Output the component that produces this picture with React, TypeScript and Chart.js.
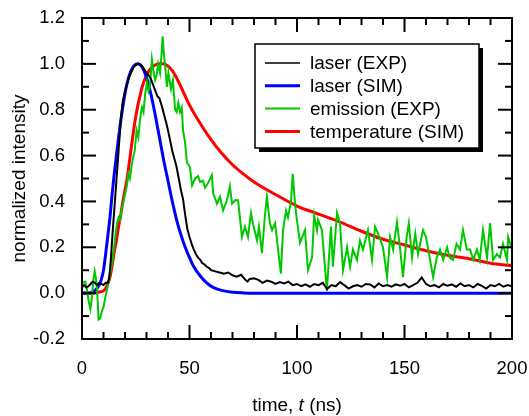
import React, { useEffect, useRef } from 'react';
import { Chart, registerables } from 'chart.js';

Chart.register(...registerables);

const FONT = '"Liberation Sans", Arial, Helvetica, sans-serif';

// ---- data ----
const laserExpT = [0, 1, 2, 3, 4, 5, 6, 7, 8, 9, 10, 11, 12, 12.5, 13, 13.5, 14, 14.5, 15, 16, 17, 18, 19, 20, 21, 22, 23, 24, 25, 26, 27, 28, 29, 30, 31, 32, 33, 34, 35, 36, 37, 38, 39, 40, 41, 42, 43, 44, 45, 46, 47, 48, 49, 50, 51, 52, 53, 54, 55, 56, 57, 58, 59, 60, 62, 64, 66, 68, 70, 72, 74, 76, 77, 78, 80, 82, 84, 86, 88, 90, 92, 94, 96, 98, 100, 102, 104, 106, 108, 110, 112, 114, 116, 118, 120, 122, 124, 126, 128, 130, 132, 134, 136, 138, 140, 142, 144, 146, 148, 150, 152, 154, 156, 158, 160, 162, 164, 166, 168, 170, 172, 174, 176, 178, 180, 182, 184, 186, 188, 190, 192, 194, 196, 198, 200];
const laserExpV = [0.025, 0.035, 0.025, 0.03, 0.04, 0.05, 0.045, 0.035, 0.045, 0.04, 0.035, 0.045, 0.045, 0.06, 0.1, 0.16, 0.23, 0.3, 0.36, 0.49, 0.62, 0.75, 0.84, 0.88, 0.915, 0.945, 0.965, 0.985, 0.995, 1.0, 0.998, 0.99, 0.975, 0.96, 0.95, 0.935, 0.91, 0.885, 0.86, 0.85, 0.82, 0.785, 0.75, 0.71, 0.665, 0.62, 0.585, 0.55, 0.5, 0.45, 0.41, 0.34, 0.28, 0.245, 0.215, 0.19, 0.17, 0.155, 0.145, 0.13, 0.125, 0.115, 0.11, 0.1, 0.095, 0.09, 0.085, 0.09, 0.078, 0.072, 0.08, 0.058, 0.05, 0.062, 0.065, 0.058, 0.045, 0.055, 0.05, 0.04, 0.048, 0.042, 0.05, 0.035, 0.04, 0.03, 0.038, 0.028, 0.04, 0.035, 0.045, 0.018, 0.035, 0.03, 0.048, 0.035, 0.02, 0.03, 0.035, 0.028, 0.04, 0.038, 0.025, 0.042, 0.03, 0.035, 0.028, 0.038, 0.032, 0.04, 0.025, 0.035, 0.045, 0.068, 0.04, 0.03, 0.035, 0.025, 0.04, 0.032, 0.038, 0.028, 0.042, 0.03, 0.035, 0.025, 0.04, 0.032, 0.02, 0.035, 0.03, 0.04, 0.028, 0.035, 0.03];

const laserSimT = [0, 4, 6, 8, 9, 10, 11, 12, 13, 14, 15, 16, 18, 20, 22, 24, 26, 28, 30, 32, 34, 36, 38, 40, 42, 44, 46, 48, 50, 52, 55, 58, 61, 65, 70, 75, 80, 100, 150, 200];
const laserSimV = [0, 0.002, 0.012, 0.035, 0.06, 0.1, 0.17, 0.25, 0.33, 0.43, 0.52, 0.6, 0.75, 0.87, 0.95, 0.99, 1.0, 0.985, 0.94, 0.87, 0.78, 0.68, 0.58, 0.49, 0.4, 0.32, 0.255, 0.2, 0.155, 0.115, 0.075, 0.045, 0.025, 0.012, 0.004, 0.001, 0, 0, 0, 0];

const emissionT = [0, 1, 1.6, 2.3, 3.2, 3.9, 4.6, 5.3, 5.9, 6.5, 7, 7.7, 8.4, 9.2, 10.1, 10.8, 11.6, 12.4, 13.2, 14, 14.7, 15.4, 16.2, 17, 17.7, 18.5, 19.1, 20, 20.9, 21.6, 22.3, 23, 23.7, 24.5, 25.4, 26.2, 27, 27.9, 28.6, 29.4, 30.2, 30.9, 31.6, 32.5, 33.2, 34, 34.7, 35.4, 36.3, 37, 37.5, 38.1, 38.6, 39.5, 40.2, 41.4, 42.3, 43.3, 44, 44.8, 45.6, 46.4, 47, 47.9, 48.8, 50.2, 51.2, 52.6, 54, 54.9, 56.3, 57.2, 58.6, 60.4, 61, 62.8, 64.2, 65.6, 67.4, 68.8, 69.8, 71.2, 72.6, 74.4, 75.8, 77.2, 78.6, 79.5, 81.4, 82.3, 83.7, 85, 86, 87.4, 88.4, 89.8, 91.2, 92.5, 93.5, 94.9, 95.8, 97.2, 98, 99, 99.8, 101.4, 103.7, 105.1, 107, 108, 109.3, 109.8, 111.6, 113.9, 115.8, 116.7, 118.6, 120, 121.4, 123.3, 124.7, 126, 127.9, 129.3, 130.7, 133, 134.9, 136.3, 137.7, 140, 141.9, 143.3, 144.7, 146.5, 148, 149.3, 151, 152, 153.5, 155, 156.3, 158.6, 160, 161.9, 163.3, 165, 166.5, 168, 169.8, 171, 172.6, 174.2, 175.8, 177.2, 179, 180.5, 182, 183.7, 185, 186.5, 188.4, 189.8, 191.2, 193, 194.4, 195.8, 197.7, 198.2, 200];
const emissionV = [0.04, 0.05, 0.05, 0.015, -0.04, -0.07, -0.02, 0.06, 0.095, 0.06, 0.02, -0.115, -0.11, -0.08, -0.057, -0.02, 0.015, 0.05, 0.09, 0.13, 0.18, 0.24, 0.3, 0.33, 0.32, 0.37, 0.39, 0.43, 0.47, 0.52, 0.5, 0.55, 0.59, 0.62, 0.71, 0.68, 0.76, 0.81, 0.79, 0.87, 0.92, 0.88, 0.9, 1.02, 0.97, 0.93, 0.95, 1.0, 0.96, 1.04, 1.12, 1.04, 1.0, 0.9, 0.96, 0.89, 0.93, 0.8, 0.79, 0.83, 0.79, 0.81, 0.71, 0.66, 0.57, 0.55, 0.47, 0.5, 0.51, 0.485, 0.49, 0.46, 0.48, 0.515, 0.435, 0.39, 0.42, 0.36, 0.405, 0.465, 0.39, 0.405, 0.405, 0.245, 0.29, 0.245, 0.35, 0.305, 0.23, 0.29, 0.175, 0.33, 0.42, 0.305, 0.275, 0.305, 0.19, 0.085, 0.275, 0.36, 0.33, 0.4, 0.52, 0.4, 0.33, 0.22, 0.275, 0.1, 0.155, 0.34, 0.275, 0.32, 0.275, 0.01, 0.29, 0.115, 0.35, 0.305, 0.1, 0.2, 0.115, 0.19, 0.145, 0.23, 0.19, 0.275, 0.145, 0.29, 0.26, 0.2, 0.07, 0.245, 0.19, 0.31, 0.19, 0.07, 0.245, 0.305, 0.155, 0.26, 0.17, 0.275, 0.245, 0.145, 0.07, 0.155, 0.19, 0.145, 0.2, 0.155, 0.145, 0.215, 0.19, 0.275, 0.19, 0.19, 0.145, 0.19, 0.145, 0.275, 0.155, 0.305, 0.145, 0.17, 0.155, 0.215, 0.145, 0.245, 0.19];

const tempSimT = [0, 5, 8, 10, 12, 13, 14, 15, 16, 17, 18, 19, 20, 21, 22, 23, 24, 25, 26, 27, 28, 30, 32, 34, 36, 38, 40, 42, 45, 50, 55, 60, 65, 70, 75, 80, 90, 100, 110, 120, 130, 140, 150, 160, 170, 180, 190, 200];
const tempSimV = [0, 0, 0.005, 0.01, 0.04, 0.07, 0.12, 0.18, 0.23, 0.29, 0.34, 0.4, 0.45, 0.5, 0.57, 0.64, 0.71, 0.77, 0.82, 0.86, 0.9, 0.95, 0.98, 0.995, 1.0, 1.0, 0.99, 0.97, 0.92, 0.82, 0.74, 0.67, 0.61, 0.56, 0.52, 0.485, 0.43, 0.38, 0.345, 0.31, 0.27, 0.235, 0.21, 0.185, 0.165, 0.15, 0.13, 0.12];

const seriesLabels = ['laser (EXP)', 'laser (SIM)', 'emission (EXP)', 'temperature (SIM)'];
const seriesColors = ['#000000', '#0000ff', '#00c800', '#ff0000'];
const seriesWidths = [2, 3, 2, 3];

const xTitleParts = [
  { text: 'time, ', italic: false },
  { text: 't', italic: true },
  { text: ' (ns)', italic: false },
];
const yTitle = 'normalized intensity';

const toPts = (t: number[], v: number[]) => t.map((x, i) => ({ x, y: v[i] }));

const framePlugin = {
  id: 'frameTicksLegend',
  afterDatasetsDraw(chart: any) {
    const { ctx, chartArea: a, scales } = chart;
    const xs = scales.x;
    const ys = scales.y;
    ctx.save();
    ctx.strokeStyle = '#000';
    ctx.lineWidth = 2;
    ctx.lineCap = 'butt';
    const seg = (x1: number, y1: number, x2: number, y2: number) => {
      ctx.beginPath();
      ctx.moveTo(x1, y1);
      ctx.lineTo(x2, y2);
      ctx.stroke();
    };
    const xv = xs.ticks.map((t: any) => t.value);
    const drawX = (v: number, len: number) => {
      const p = xs.getPixelForValue(v);
      seg(p, a.bottom, p, a.bottom - len);
      seg(p, a.top, p, a.top + len);
    };
    xv.forEach((v: number, i: number) => {
      drawX(v, 14);
      if (i < xv.length - 1) {
        for (let k = 1; k < 5; k++) drawX(v + ((xv[i + 1] - v) * k) / 5, 7);
      }
    });
    const yv = ys.ticks.map((t: any) => t.value);
    const drawY = (v: number, len: number) => {
      const p = ys.getPixelForValue(v);
      seg(a.left, p, a.left + len, p);
      seg(a.right, p, a.right - len, p);
    };
    yv.forEach((v: number, i: number) => {
      drawY(v, 14);
      if (i < yv.length - 1) drawY((v + yv[i + 1]) / 2, 7);
    });
    ctx.strokeRect(a.left, a.top, a.right - a.left, a.bottom - a.top);

    // legend
    const lx = 255, ly = 44, lw = 224, lh = 104;
    ctx.fillStyle = '#000';
    ctx.fillRect(lx + 4, ly + 4, lw, lh);
    ctx.fillStyle = '#fff';
    ctx.fillRect(lx, ly, lw, lh);
    ctx.lineWidth = 1.5;
    ctx.strokeRect(lx, ly, lw, lh);
    ctx.font = `19px ${FONT}`;
    ctx.textBaseline = 'middle';
    ctx.textAlign = 'left';
    chart.data.datasets.forEach((ds: any, i: number) => {
      const yy = 63 + i * 22.8;
      ctx.strokeStyle = ds.borderColor;
      ctx.lineWidth = i === 0 ? 1.5 : ds.borderWidth;
      seg(265, yy, 300, yy);
      ctx.fillStyle = '#000';
      ctx.fillText(ds.label, 310, yy + 1);
    });

    // axis titles
    ctx.fillStyle = '#000';
    ctx.textBaseline = 'alphabetic';
    const widths = xTitleParts.map((p) => {
      ctx.font = `${p.italic ? 'italic ' : ''}19px ${FONT}`;
      return ctx.measureText(p.text).width;
    });
    const total = widths.reduce((s, w) => s + w, 0);
    let cx = (a.left + a.right) / 2 - total / 2;
    xTitleParts.forEach((p, i) => {
      ctx.font = `${p.italic ? 'italic ' : ''}19px ${FONT}`;
      ctx.fillText(p.text, cx, 411);
      cx += widths[i];
    });
    ctx.save();
    ctx.translate(25, (a.top + a.bottom) / 2);
    ctx.rotate(-Math.PI / 2);
    ctx.font = `19px ${FONT}`;
    ctx.textAlign = 'center';
    ctx.fillText(yTitle, 0, 0);
    ctx.restore();
    ctx.restore();
  },
};

export default function App() {
  const ref = useRef<HTMLCanvasElement | null>(null);
  useEffect(() => {
    if (!ref.current) return;
    Chart.defaults.font.family = FONT;
    Chart.defaults.color = '#000';
    const tables = [
      toPts(laserExpT, laserExpV),
      toPts(laserSimT, laserSimV),
      toPts(emissionT, emissionV),
      toPts(tempSimT, tempSimV),
    ];
    const orders = [0, 2, 1, 3];
    const smooth = [false, true, false, true];
    const chart = new Chart(ref.current, {
      type: 'line',
      data: {
        datasets: tables.map((d, i) => ({
          label: seriesLabels[i],
          data: d,
          borderColor: seriesColors[i],
          backgroundColor: seriesColors[i],
          borderWidth: seriesWidths[i],
          pointRadius: 0,
          fill: false,
          order: orders[i],
          tension: smooth[i] ? 0.4 : 0,
          cubicInterpolationMode: smooth[i] ? 'monotone' : 'default',
        })),
      },
      options: {
        animation: false,
        responsive: false,
        devicePixelRatio: 1,
        parsing: false,
        layout: { padding: { left: 0, top: 18, right: 17, bottom: 0 } },
        plugins: { legend: { display: false }, tooltip: { enabled: false } },
        scales: {
          x: {
            type: 'linear',
            min: 0,
            max: 200,
            grid: { display: false },
            border: { display: false },
            ticks: { stepSize: 50, font: { size: 18.5 }, color: '#000', padding: 11, maxRotation: 0 },
            afterFit: (s: any) => {
              s.height = 77;
              s.paddingLeft = 0;
              s.paddingRight = 0;
            },
          },
          y: {
            type: 'linear',
            min: -0.2,
            max: 1.2,
            grid: { display: false },
            border: { display: false },
            ticks: {
              stepSize: 0.2,
              font: { size: 18.5 },
              color: '#000',
              padding: 9,
              callback: (v: any) => (Math.abs(Number(v)) < 1e-9 ? 0 : Number(v)).toFixed(1),
            },
            afterFit: (s: any) => {
              s.width = 82;
              s.paddingTop = 0;
              s.paddingBottom = 0;
            },
          },
        },
      } as any,
      plugins: [framePlugin],
    });
    return () => chart.destroy();
  }, []);
  return (
    <div style={{ position: 'absolute', left: 0, top: 0, width: 529, height: 416, background: '#fff' }}>
      <canvas ref={ref} width={529} height={416} style={{ display: 'block' }} />
    </div>
  );
}
